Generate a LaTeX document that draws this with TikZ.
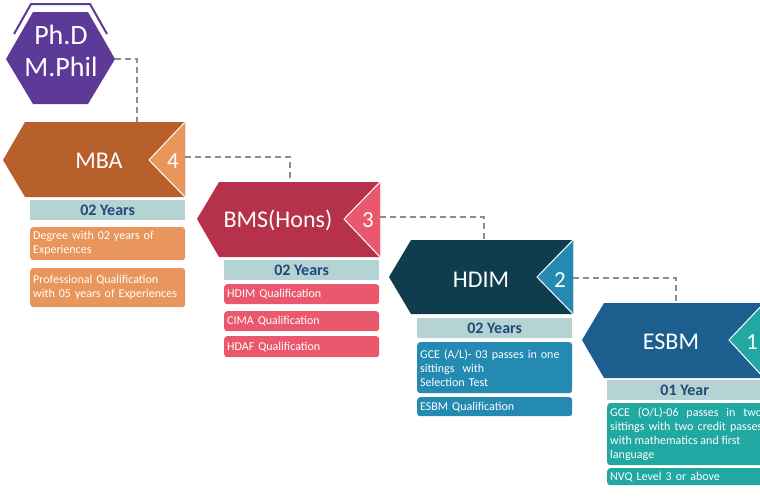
\documentclass[tikz,border=0pt]{standalone}
\usepackage{fontspec}
\setmainfont{Carlito}
\usetikzlibrary{positioning}
\definecolor{phdpurple}{RGB}{94,58,152}
\definecolor{mbadark}{RGB}{184,96,44}
\definecolor{mbalight}{RGB}{233,150,92}
\definecolor{bmsdark}{RGB}{181,50,74}
\definecolor{bmslight}{RGB}{234,88,110}
\definecolor{hdimdark}{RGB}{15,61,78}
\definecolor{hdimlight}{RGB}{36,138,178}
\definecolor{esbmdark}{RGB}{28,95,143}
\definecolor{esbmlight}{RGB}{33,168,162}
\definecolor{yearbg}{RGB}{181,211,211}
\definecolor{yeartext}{RGB}{31,74,122}
\definecolor{linkgray}{RGB}{140,140,140}

\begin{document}
\begin{tikzpicture}[x=1pt, y=-1pt,
    title/.style={text=white, font=\fontsize{24}{28}\selectfont},
    num/.style={text=white, font=\fontsize{23}{26}\selectfont},
    yearbar/.style={fill=yearbg, text=yeartext, font=\fontsize{16}{18}\selectfont\bfseries, minimum width=155pt, minimum height=20pt, inner sep=0pt, anchor=north west},
    qbox/.style={rounded corners=3pt, text=white, font=\fontsize{12}{14}\selectfont, text width=149pt, inner sep=3pt, align=left, anchor=north west},
    notchline/.style={draw=white, line width=1pt},
    link/.style={draw=linkgray, line width=1.2pt, dash pattern=on 6pt off 4pt}]
\clip (0,0) rectangle (760,498);
% Ph.D hexagon
\fill[phdpurple] (6,59) -- (33,12) -- (88,12) -- (115,59) -- (88,104) -- (33,104) -- cycle;
\draw[phdpurple, line width=2pt] (14,34) -- (31,4) -- (90,4) -- (107,34);
\node[text=white, font=\fontsize{28}{32}\selectfont, align=center] (phd) at (61,51) {Ph.D\\M.Phil};
\coordinate (phdR) at (115,59);
% MBA
\fill[mbadark] (3,160) -- (25,122) -- (185,122) -- (185,197) -- (25,197) -- cycle;
\fill[mbalight] (185,122) -- (149,160) -- (185,197) -- cycle;
\draw[notchline] (185,122) -- (149,160) -- (185,197);
\node[title] (mba) at (99,161) {MBA};
\node[num] (n4) at (173,161) {4};
\coordinate (mbaT) at (137,122);
\coordinate (mbaR) at (185,157);
\node[yearbar] (mbayr) at (30,200) {02 Years};
\node[qbox, fill=mbalight, minimum height=33pt] (mba1) at (30,227) {Degree with 02 years of\\Experiences};
\node[qbox, fill=mbalight, minimum height=39pt] (mba2) at (30,268) {Professional Qualification\\with 05 years of Experiences};
% BMS(Hons)
\fill[bmsdark] (197,219) -- (219,182) -- (380,182) -- (380,257) -- (219,257) -- cycle;
\fill[bmslight] (380,182) -- (344,219) -- (380,257) -- cycle;
\draw[notchline] (380,182) -- (344,219) -- (380,257);
\node[title] (bms) at (278,220) {BMS(Hons)};
\node[num] (n3) at (368,220) {3};
\coordinate (bmsT) at (290,182);
\coordinate (bmsR) at (380,217);
\node[yearbar] (bmsyr) at (224,260) {02 Years};
\node[qbox, fill=bmslight, minimum height=20pt] (bms1) at (224,284) {HDIM Qualification};
\node[qbox, fill=bmslight, minimum height=20pt] (bms2) at (224,311) {CIMA Qualification};
\node[qbox, fill=bmslight, minimum height=21pt] (bms3) at (224,336) {HDAF Qualification};
% HDIM
\fill[hdimdark] (389,277) -- (411,240) -- (573,240) -- (573,314) -- (411,314) -- cycle;
\fill[hdimlight] (573,240) -- (537,277) -- (573,314) -- cycle;
\draw[notchline] (573,240) -- (537,277) -- (573,314);
\node[title] (hdim) at (481,280) {HDIM};
\node[num] (n2) at (560,280) {2};
\coordinate (hdimT) at (484,240);
\coordinate (hdimR) at (573,278);
\node[yearbar] (hdimyr) at (417,318) {02 Years};
\node[qbox, fill=hdimlight, minimum height=51pt] (hdim1) at (417,342) {GCE (A/L)- 03 passes in one\\sittings~~with\\Selection Test};
\node[qbox, fill=hdimlight, minimum height=19pt] (hdim2) at (417,397) {ESBM Qualification};
% ESBM
\fill[esbmdark] (582,340) -- (604,303) -- (764,303) -- (764,378) -- (604,378) -- cycle;
\fill[esbmlight] (764,303) -- (729,340) -- (764,378) -- cycle;
\draw[notchline] (764,303) -- (729,340) -- (764,378);
\node[title] (esbm) at (671,342) {ESBM};
\node[num] (n1) at (752,342) {1};
\coordinate (esbmT) at (676,303);
\node[yearbar] (esbmyr) at (607,380) {01 Year};
\node[qbox, fill=esbmlight, minimum height=62pt, text width=152pt, align=justify] (esbm1) at (607,403) {GCE (O/L)-06 passes in two\linebreak sittings with two credit passes\linebreak with mathematics and first\newline language};
\node[qbox, fill=esbmlight, minimum height=17pt, inner ysep=1pt] (esbm2) at (607,468) {NVQ Level 3 or above};
% dashed links
\draw[link] (phdR) -| (mbaT);
\draw[link] (mbaR) -| (bmsT);
\draw[link] (bmsR) -| (hdimT);
\draw[link] (hdimR) -| (esbmT);
\end{tikzpicture}
\end{document}
